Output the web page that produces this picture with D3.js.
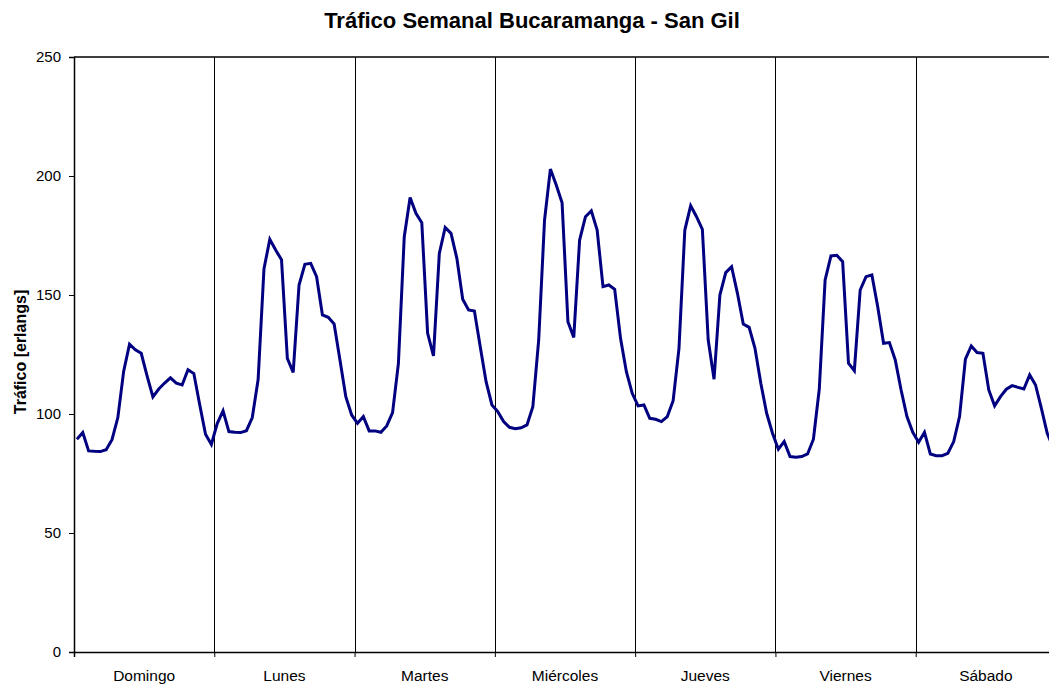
<!DOCTYPE html>
<html><head><meta charset="utf-8">
<script src="https://cdn.jsdelivr.net/npm/d3@7"></script>
<style>html,body{margin:0;padding:0;background:#fff;overflow:hidden}svg{display:block}</style>
</head><body>
<svg id="c" width="1049" height="686"></svg>
<script>
const days = ["Domingo","Lunes","Martes","Miércoles","Jueves","Viernes","Sábado"];
const yTicks = [0,50,100,150,200,250];
const domingo = [89.4,92.2,84.5,84.3,84.2,85.0,89.2,98.5,118,129.3,127,125.5,116,107.2,110.5,113,115.2,113,112.2,118.6,117,104,91.5,87.2];
const lunes = [96,101.3,92.6,92.3,92.2,93,98.5,114.5,161,173.4,168.9,164.8,123.4,117.5,154.2,162.9,163.3,157.7,141.6,140.6,137.8,122.7,107.3,99.6];
const martes = [96.1,98.9,92.9,92.9,92.3,95,100.6,121.3,174.5,191,184.3,180.4,133.9,124.4,167.5,178.4,175.9,165.4,148.2,143.7,143.3,128.3,113.6,103.8];
const miercoles = [101,96.8,94.4,93.8,94.2,95.4,103.1,131.1,181.5,202.9,196.2,188.8,138.8,132.2,173.1,182.9,185.4,177.3,153.5,154.2,152.4,131.8,117.8,108.7];
const jueves = [103.4,103.8,98.2,97.8,96.8,98.9,105.6,127.6,177.3,187.5,182.9,177.6,131.1,114.6,150,159.4,161.9,150.7,137.8,136.4,127.6,112.9,100.3,91.9];
const viernes = [85.2,88.4,82.1,81.8,82.1,83.2,89.4,110.4,156.3,166.4,166.7,164,121.3,118.2,152.1,157.7,158.4,145.1,129.7,130,122.7,110.1,98.9,92.3];
const sabado = [88.1,92.3,83.2,82.5,82.5,83.5,88.4,98.9,123,128.6,125.8,125.5,110.1,103.4,107.3,110.4,111.9,111.2,110.5,116.4,112.2,102.4,91.9,86];
const series = [].concat(domingo,lunes,martes,miercoles,jueves,viernes,sabado);

const FONT = "Liberation Sans, Arial, sans-serif";
const svg = d3.select("#c");
const m = {left:74, top:57};
const W = 982, H = 595;
const g = svg.append("g").attr("transform",`translate(${m.left},${m.top})`);

const x = d3.scaleLinear().domain([0, series.length]).range([0, W]);
const xDay = d3.scaleBand().domain(days).range([0, W]).padding(0);
const y = d3.scaleLinear().domain([0,250]).range([H,0]);

// day separators
g.selectAll(".sep").data(d3.range(1,7)).join("line")
  .attr("x1",d=>Math.round(x(d*24))+0.5).attr("x2",d=>Math.round(x(d*24))+0.5)
  .attr("y1",0).attr("y2",H).attr("stroke","#000").attr("stroke-width",1);

// top border
g.append("line").attr("x1",0).attr("x2",W).attr("y1",0).attr("y2",0).attr("stroke","#000").attr("stroke-width",1.5);

// y axis
const ya = g.append("g").call(d3.axisLeft(y).tickValues(yTicks).tickSize(5).tickPadding(8));
ya.select(".domain").attr("stroke","#000").attr("stroke-width",1.5);
ya.selectAll("text").attr("font-family",FONT).attr("font-size","15px").attr("fill","#000");

// x axis
const xa = g.append("g").attr("transform",`translate(0,${H})`)
  .call(d3.axisBottom(x).tickValues(d3.range(0,8).map(d=>d*24)).tickSize(5).tickFormat(""));
xa.select(".domain").attr("stroke","#000").attr("stroke-width",1.5);
g.selectAll(".dlab").data(days).join("text")
  .attr("x",d=>xDay(d)+xDay.bandwidth()/2).attr("y",H+29)
  .attr("text-anchor","middle").attr("font-family",FONT)
  .attr("font-size","15.5px").text(d=>d);

// line
const line = d3.line().x((d,i)=>x(i+0.5)).y(d=>y(d));
g.append("path").datum(series).attr("d",line).attr("fill","none")
  .attr("stroke","#000080").attr("stroke-width",3).attr("stroke-linejoin","miter");

// titles
svg.append("text").attr("x",532).attr("y",28).attr("text-anchor","middle")
  .attr("font-family",FONT).attr("font-weight","bold")
  .attr("font-size","22px").text("Tráfico Semanal Bucaramanga - San Gil");
svg.append("text").attr("transform",`translate(26,${352}) rotate(-90)`).attr("text-anchor","middle")
  .attr("font-family",FONT).attr("font-weight","bold")
  .attr("font-size","16px").text("Tráfico [erlangs]");
</script>
</body></html>
